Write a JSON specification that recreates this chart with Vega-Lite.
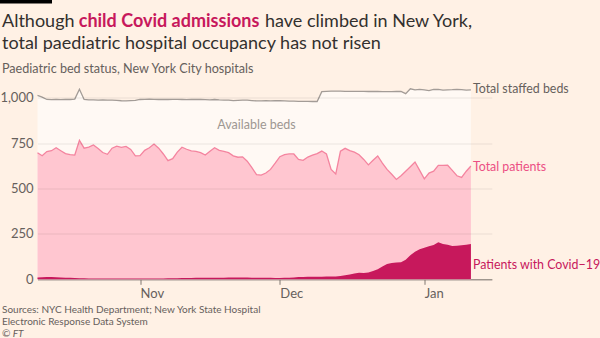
{
  "$schema": "https://vega.github.io/schema/vega-lite/v6.json",
  "width": 454.4,
  "height": 199.8,
  "autosize": "none",
  "padding": {"left": 37.5, "top": 79.5, "right": 108.1, "bottom": 58.7},
  "background": "#FFF1E5",
  "config": {"view": {"stroke": null}, "font": "Lato"},
  "datasets": {
    "beds": [
      {"date": "2021-10-10", "staffed": 1012, "patients": 697, "covid": 10},
      {"date": "2021-10-11", "staffed": 1003, "patients": 680, "covid": 11},
      {"date": "2021-10-12", "staffed": 990, "patients": 703, "covid": 12},
      {"date": "2021-10-13", "staffed": 989, "patients": 708, "covid": 12},
      {"date": "2021-10-14", "staffed": 990, "patients": 724, "covid": 11},
      {"date": "2021-10-15", "staffed": 989, "patients": 708, "covid": 10},
      {"date": "2021-10-16", "staffed": 990, "patients": 692, "covid": 9},
      {"date": "2021-10-17", "staffed": 990, "patients": 686, "covid": 8},
      {"date": "2021-10-18", "staffed": 992, "patients": 684, "covid": 7},
      {"date": "2021-10-19", "staffed": 1046, "patients": 765, "covid": 6},
      {"date": "2021-10-20", "staffed": 990, "patients": 722, "covid": 6},
      {"date": "2021-10-21", "staffed": 988, "patients": 728, "covid": 5},
      {"date": "2021-10-22", "staffed": 988, "patients": 740, "covid": 5},
      {"date": "2021-10-23", "staffed": 987, "patients": 720, "covid": 5},
      {"date": "2021-10-24", "staffed": 988, "patients": 698, "covid": 5},
      {"date": "2021-10-25", "staffed": 986, "patients": 688, "covid": 4},
      {"date": "2021-10-26", "staffed": 986, "patients": 722, "covid": 4},
      {"date": "2021-10-27", "staffed": 985, "patients": 733, "covid": 4},
      {"date": "2021-10-28", "staffed": 983, "patients": 726, "covid": 4},
      {"date": "2021-10-29", "staffed": 982, "patients": 732, "covid": 4},
      {"date": "2021-10-30", "staffed": 984, "patients": 715, "covid": 4},
      {"date": "2021-10-31", "staffed": 985, "patients": 680, "covid": 4},
      {"date": "2021-11-01", "staffed": 990, "patients": 681, "covid": 4},
      {"date": "2021-11-02", "staffed": 991, "patients": 710, "covid": 4},
      {"date": "2021-11-03", "staffed": 992, "patients": 724, "covid": 5},
      {"date": "2021-11-04", "staffed": 991, "patients": 745, "covid": 5},
      {"date": "2021-11-05", "staffed": 990, "patients": 722, "covid": 5},
      {"date": "2021-11-06", "staffed": 991, "patients": 690, "covid": 5},
      {"date": "2021-11-07", "staffed": 990, "patients": 653, "covid": 6},
      {"date": "2021-11-08", "staffed": 991, "patients": 664, "covid": 6},
      {"date": "2021-11-09", "staffed": 991, "patients": 700, "covid": 6},
      {"date": "2021-11-10", "staffed": 990, "patients": 727, "covid": 7},
      {"date": "2021-11-11", "staffed": 989, "patients": 716, "covid": 7},
      {"date": "2021-11-12", "staffed": 990, "patients": 707, "covid": 7},
      {"date": "2021-11-13", "staffed": 991, "patients": 704, "covid": 8},
      {"date": "2021-11-14", "staffed": 990, "patients": 697, "covid": 8},
      {"date": "2021-11-15", "staffed": 989, "patients": 684, "covid": 8},
      {"date": "2021-11-16", "staffed": 988, "patients": 705, "covid": 8},
      {"date": "2021-11-17", "staffed": 990, "patients": 724, "covid": 8},
      {"date": "2021-11-18", "staffed": 988, "patients": 710, "covid": 9},
      {"date": "2021-11-19", "staffed": 987, "patients": 704, "covid": 9},
      {"date": "2021-11-20", "staffed": 986, "patients": 697, "covid": 10},
      {"date": "2021-11-21", "staffed": 984, "patients": 680, "covid": 10},
      {"date": "2021-11-22", "staffed": 985, "patients": 672, "covid": 10},
      {"date": "2021-11-23", "staffed": 986, "patients": 674, "covid": 10},
      {"date": "2021-11-24", "staffed": 986, "patients": 650, "covid": 10},
      {"date": "2021-11-25", "staffed": 984, "patients": 615, "covid": 9},
      {"date": "2021-11-26", "staffed": 982, "patients": 576, "covid": 9},
      {"date": "2021-11-27", "staffed": 982, "patients": 574, "covid": 9},
      {"date": "2021-11-28", "staffed": 983, "patients": 585, "covid": 9},
      {"date": "2021-11-29", "staffed": 982, "patients": 605, "covid": 8},
      {"date": "2021-11-30", "staffed": 983, "patients": 639, "covid": 7},
      {"date": "2021-12-01", "staffed": 983, "patients": 675, "covid": 7},
      {"date": "2021-12-02", "staffed": 982, "patients": 686, "covid": 8},
      {"date": "2021-12-03", "staffed": 981, "patients": 690, "covid": 9},
      {"date": "2021-12-04", "staffed": 981, "patients": 690, "covid": 10},
      {"date": "2021-12-05", "staffed": 980, "patients": 660, "covid": 12},
      {"date": "2021-12-06", "staffed": 980, "patients": 655, "covid": 13},
      {"date": "2021-12-07", "staffed": 980, "patients": 673, "covid": 14},
      {"date": "2021-12-08", "staffed": 979, "patients": 684, "covid": 14},
      {"date": "2021-12-09", "staffed": 979, "patients": 692, "covid": 14},
      {"date": "2021-12-10", "staffed": 1033, "patients": 706, "covid": 14},
      {"date": "2021-12-11", "staffed": 1035, "patients": 690, "covid": 15},
      {"date": "2021-12-12", "staffed": 1036, "patients": 605, "covid": 15},
      {"date": "2021-12-13", "staffed": 1036, "patients": 580, "covid": 16},
      {"date": "2021-12-14", "staffed": 1036, "patients": 705, "covid": 18},
      {"date": "2021-12-15", "staffed": 1035, "patients": 721, "covid": 22},
      {"date": "2021-12-16", "staffed": 1035, "patients": 708, "covid": 27},
      {"date": "2021-12-17", "staffed": 1035, "patients": 700, "covid": 32},
      {"date": "2021-12-18", "staffed": 1035, "patients": 686, "covid": 36},
      {"date": "2021-12-19", "staffed": 1035, "patients": 660, "covid": 35},
      {"date": "2021-12-20", "staffed": 1034, "patients": 630, "covid": 38},
      {"date": "2021-12-21", "staffed": 1034, "patients": 655, "covid": 46},
      {"date": "2021-12-22", "staffed": 1034, "patients": 679, "covid": 55},
      {"date": "2021-12-23", "staffed": 1033, "patients": 640, "covid": 70},
      {"date": "2021-12-24", "staffed": 1033, "patients": 605, "covid": 84},
      {"date": "2021-12-25", "staffed": 1033, "patients": 578, "covid": 90},
      {"date": "2021-12-26", "staffed": 1034, "patients": 550, "covid": 92},
      {"date": "2021-12-27", "staffed": 1034, "patients": 570, "covid": 94},
      {"date": "2021-12-28", "staffed": 1022, "patients": 595, "covid": 108},
      {"date": "2021-12-29", "staffed": 1049, "patients": 620, "covid": 132},
      {"date": "2021-12-30", "staffed": 1043, "patients": 646, "covid": 152},
      {"date": "2021-12-31", "staffed": 1046, "patients": 600, "covid": 166},
      {"date": "2022-01-01", "staffed": 1043, "patients": 553, "covid": 174},
      {"date": "2022-01-02", "staffed": 1039, "patients": 585, "covid": 182},
      {"date": "2022-01-03", "staffed": 1045, "patients": 595, "covid": 189},
      {"date": "2022-01-04", "staffed": 1046, "patients": 627, "covid": 204},
      {"date": "2022-01-05", "staffed": 1042, "patients": 627, "covid": 194},
      {"date": "2022-01-06", "staffed": 1043, "patients": 628, "covid": 190},
      {"date": "2022-01-07", "staffed": 1044, "patients": 600, "covid": 183},
      {"date": "2022-01-08", "staffed": 1046, "patients": 570, "covid": 185},
      {"date": "2022-01-09", "staffed": 1044, "patients": 561, "covid": 188},
      {"date": "2022-01-10", "staffed": 1042, "patients": 595, "covid": 190},
      {"date": "2022-01-11", "staffed": 1043, "patients": 624, "covid": 194}
    ],
    "labels": [
      {"date": "2022-01-11", "value": 1050, "label": "Total staffed beds", "series": "staffed"},
      {"date": "2022-01-11", "value": 616, "label": "Total patients", "series": "patients"},
      {"date": "2022-01-11", "value": 79, "label": "Patients with Covid−19", "series": "covid"}
    ]
  },
  "layer": [
    {
      "data": {"name": "beds"},
      "mark": {"type": "area", "color": "#FFF9F4"},
      "encoding": {
        "x": {
          "field": "date", "type": "temporal",
          "scale": {"domain": ["2021-10-10T00:00:00", "2022-01-15T12:00:00"]},
          "axis": {
            "title": null, "format": "%b", "tickCount": {"interval": "month", "step": 1},
            "grid": false, "domainColor": "#807973", "tickColor": "#807973", "tickSize": 5,
            "labelAlign": "left", "labelDx": -2, "labelPadding": 3, "labelFontSize": 13,
            "labelColor": "#66605C", "labelFont": "Lato"
          }
        },
        "y": {
          "field": "staffed", "type": "quantitative",
          "scale": {"domain": [0, 1100], "nice": false},
          "axis": {
            "title": null, "values": [0, 250, 500, 750, 1000], "format": ",.0f",
            "domain": false, "ticks": false, "labelPadding": 4.5, "labelFontSize": 13,
            "labelColor": "#66605C", "labelFont": "Lato",
            "gridColor": "#000000", "gridOpacity": 0.08, "zindex": 1
          }
        }
      }
    },
    {
      "data": {"name": "beds"},
      "mark": {"type": "area", "color": "#FFC6D0"},
      "encoding": {
        "x": {"field": "date", "type": "temporal"},
        "y": {"field": "patients", "type": "quantitative"}
      }
    },
    {
      "data": {"name": "beds"},
      "mark": {"type": "area", "color": "#C7185C"},
      "encoding": {
        "x": {"field": "date", "type": "temporal"},
        "y": {"field": "covid", "type": "quantitative"}
      }
    },
    {
      "data": {"name": "beds"},
      "mark": {"type": "line", "color": "#A39C97", "strokeWidth": 1.3},
      "encoding": {
        "x": {"field": "date", "type": "temporal"},
        "y": {"field": "staffed", "type": "quantitative"}
      }
    },
    {
      "data": {"name": "beds"},
      "mark": {"type": "line", "color": "#F4849F", "strokeWidth": 1.3},
      "encoding": {
        "x": {"field": "date", "type": "temporal"},
        "y": {"field": "patients", "type": "quantitative"}
      }
    },
    {
      "data": {"name": "labels"},
      "mark": {"type": "text", "align": "left", "baseline": "middle", "dx": 2, "fontSize": 12.4, "font": "Lato"},
      "encoding": {
        "x": {"field": "date", "type": "temporal"},
        "y": {"field": "value", "type": "quantitative"},
        "text": {"field": "label"},
        "color": {"field": "series", "type": "nominal", "scale": {"domain": ["staffed", "patients", "covid"], "range": ["#66605C", "#EC4F84", "#C7185C"]}, "legend": null},
        "fontWeight": {"field": "series", "type": "nominal", "scale": {"domain": ["staffed", "patients", "covid"], "range": ["normal", "normal", "bold"]}, "legend": null}
      }
    },
    {
      "data": {"values": [{"date": "2021-11-26", "value": 847, "label": "Available beds"}]},
      "mark": {"type": "text", "align": "center", "baseline": "middle", "fontSize": 12.5, "font": "Lato", "color": "#9E9792"},
      "encoding": {
        "x": {"field": "date", "type": "temporal"},
        "y": {"field": "value", "type": "quantitative"},
        "text": {"field": "label"}
      }
    },
    {
      "data": {"values": [{}]},
      "mark": {"type": "rect", "color": "#000000"},
      "encoding": {"x": {"value": -37.5}, "x2": {"value": 14.5}, "y": {"value": -79.5}, "y2": {"value": -76}}
    },
    {
      "data": {"values": [{"t": "Although"}]},
      "mark": {"type": "text", "align": "left", "baseline": "alphabetic", "fontSize": 18, "font": "Lato", "color": "#33302E"},
      "encoding": {"x": {"value": -35.5}, "y": {"value": -53}, "text": {"field": "t"}}
    },
    {
      "data": {"values": [{"t": "child Covid admissions"}]},
      "mark": {"type": "text", "align": "left", "baseline": "alphabetic", "fontSize": 18, "font": "Lato", "fontWeight": "bold", "color": "#C7185C"},
      "encoding": {"x": {"value": 41.2}, "y": {"value": -53}, "text": {"field": "t"}}
    },
    {
      "data": {"values": [{"t": "have climbed in New York,"}]},
      "mark": {"type": "text", "align": "left", "baseline": "alphabetic", "fontSize": 18, "font": "Lato", "color": "#33302E"},
      "encoding": {"x": {"value": 227.5}, "y": {"value": -53}, "text": {"field": "t"}}
    },
    {
      "data": {"values": [{"t": "total paediatric hospital occupancy has not risen"}]},
      "mark": {"type": "text", "align": "left", "baseline": "alphabetic", "fontSize": 18, "font": "Lato", "color": "#33302E"},
      "encoding": {"x": {"value": -35.5}, "y": {"value": -31}, "text": {"field": "t"}}
    },
    {
      "data": {"values": [{"t": "Paediatric bed status, New York City hospitals"}]},
      "mark": {"type": "text", "align": "left", "baseline": "alphabetic", "fontSize": 12.6, "font": "Lato", "color": "#66605C"},
      "encoding": {"x": {"value": -35.5}, "y": {"value": -6.5}, "text": {"field": "t"}}
    },
    {
      "data": {"values": [{"t": "Sources: NYC Health Department; New York State Hospital"}]},
      "mark": {"type": "text", "align": "left", "baseline": "middle", "fontSize": 10, "font": "Lato", "color": "#66605C"},
      "encoding": {"x": {"value": -35.5}, "y": {"value": 230}, "text": {"field": "t"}}
    },
    {
      "data": {"values": [{"t": "Electronic Response Data System"}]},
      "mark": {"type": "text", "align": "left", "baseline": "middle", "fontSize": 10, "font": "Lato", "color": "#66605C"},
      "encoding": {"x": {"value": -35.5}, "y": {"value": 242.3}, "text": {"field": "t"}}
    },
    {
      "data": {"values": [{"t": "© FT"}]},
      "mark": {"type": "text", "align": "left", "baseline": "middle", "fontSize": 10, "font": "Lato", "fontStyle": "italic", "color": "#66605C"},
      "encoding": {"x": {"value": -35.5}, "y": {"value": 254}, "text": {"field": "t"}}
    }
  ]
}
